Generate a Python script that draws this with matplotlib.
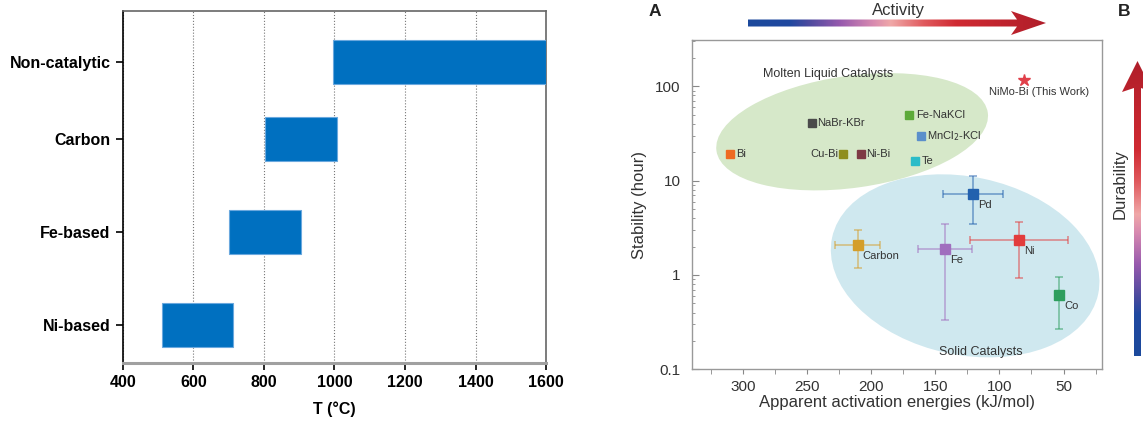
import numpy as np
import matplotlib
matplotlib.use("Agg")
import matplotlib.pyplot as plt
from matplotlib import transforms
from matplotlib.patches import Ellipse, Polygon
from matplotlib.colors import LinearSegmentedColormap

plt.rcParams['font.family'] = ['Liberation Sans', 'DejaVu Sans']

# left panel: operating temperature ranges
categories = ['Ni-based', 'Fe-based', 'Carbon', 'Non-catalytic']
cat_pos = [0, 1, 2, 2.83]
t_start = [510, 702, 803, 997]
t_end = [713, 906, 1006, 1600]

# panel A: molten liquid catalysts
liq_names = ['Bi', 'NaBr-KBr', 'Cu-Bi', 'Ni-Bi', 'Fe-NaKCl', 'MnCl$_2$-KCl', 'Te']
liq_ea = [310, 246, 222, 208, 171, 161, 166]
liq_stab = [19, 40.4, 19, 19, 50.2, 29.8, 16.2]
liq_colors = ['#EE6A22', '#4A4A4A', '#8E8E1E', '#7E3A44', '#5DAA3A', '#5B8FCB', '#2BBCC8']

# panel A: solid catalysts (with error ranges)
sol_names = ['Pd', 'Carbon', 'Fe', 'Ni', 'Co']
sol_ea = [120.5, 210.7, 142.7, 84.6, 53.6]
sol_ea_lo = [97, 193, 121.4, 46.3, 53.6]
sol_ea_hi = [144, 228.6, 163.8, 123.2, 53.6]
sol_stab = [7.3, 2.1, 1.88, 2.33, 0.62]
sol_stab_lo = [3.44, 1.2, 0.33, 0.94, 0.265]
sol_stab_hi = [11.1, 3.0, 3.44, 3.66, 0.95]
sol_colors = ['#2361AE', '#D49E2A', '#A06EBE', '#E23C3C', '#2E9E5E']

# this work
star_ea = [81]
star_stab = [118]

fig = plt.figure(figsize=(11.43, 4.21), dpi=100)

# ---------------- left panel ----------------
ax1 = fig.add_axes([0.1076, 0.1378, 0.3701, 0.8359])
widths = [e - s for s, e in zip(t_start, t_end)]
ax1.barh(cat_pos, widths, left=t_start, height=0.48, color='#0070C0',
         edgecolor='#6AA8DE', linewidth=0.8, zorder=3)
ax1.set_xlim(400, 1600)
ax1.set_ylim(-0.41, 3.38)
ax1.set_xticks([400, 600, 800, 1000, 1200, 1400, 1600])
ax1.set_yticks(cat_pos)
ax1.set_yticklabels(categories)
ax1.xaxis.grid(True, linestyle=':', color='#777777', linewidth=0.8, zorder=0)
ax1.tick_params(axis='both', labelsize=11.5, length=5, width=1.2, color='black', pad=4)
for lab in ax1.get_xticklabels() + ax1.get_yticklabels():
    lab.set_fontweight('bold')
ax1.set_xlabel('T (°C)', fontsize=11.5, fontweight='bold', labelpad=8)
ax1.spines['left'].set_color('black')
ax1.spines['left'].set_linewidth(1.2)
ax1.spines['bottom'].set_color('#A0A0A0')
ax1.spines['bottom'].set_linewidth(2.2)
for s in ['top', 'right']:
    ax1.spines[s].set_color('#666666')
    ax1.spines[s].set_linewidth(1.2)

# ---------------- right panel ----------------
ax2 = fig.add_axes([0.6054, 0.1228, 0.3587, 0.7822])
ax2.set_yscale('log')
ax2.set_xlim(340, 20)
ax2.set_ylim(0.1, 310)

# regions drawn in pixel size around a data centre
def region(cx, cy, w, h, ang, color):
    tr = fig.dpi_scale_trans + transforms.ScaledTranslation(cx, cy, ax2.transData)
    e = Ellipse((0, 0), w / 100, h / 100, angle=ang, transform=tr,
                facecolor=color, edgecolor='none', zorder=1)
    ax2.add_patch(e)

region(215, 33, 274, 112, 8, '#D6E8C9')
region(126.8, 1.25, 272, 178, -12, '#CFE8EF')

ax2.text(233.8, 135, 'Molten Liquid Catalysts', fontsize=9, color='#333333',
         ha='center', va='center', zorder=5)
ax2.text(114.7, 0.152, 'Solid Catalysts', fontsize=9, color='#333333',
         ha='center', va='center', zorder=5)

liq_offsets = [(6, 'left'), (5, 'left'), (-5, 'right'), (5, 'left'),
               (8, 'left'), (6, 'left'), (7, 'left')]
for name, x, y, c, (dx, ha) in zip(liq_names, liq_ea, liq_stab, liq_colors, liq_offsets):
    ax2.plot(x, y, 's', color=c, markersize=5.5, zorder=4)
    ax2.annotate(name, (x, y), xytext=(dx, 0), textcoords='offset pixels',
                 fontsize=8, color='#333333', ha=ha, va='center', zorder=5)

for i, name in enumerate(sol_names):
    x, y, c = sol_ea[i], sol_stab[i], sol_colors[i]
    xerr = [[x - sol_ea_lo[i]], [sol_ea_hi[i] - x]]
    yerr = [[y - sol_stab_lo[i]], [sol_stab_hi[i] - y]]
    if sol_ea_hi[i] == sol_ea_lo[i]:
        xerr = None
    ax2.errorbar(x, y, xerr=xerr, yerr=yerr, fmt='none', ecolor=c, alpha=0.6,
                 elinewidth=1.1, capsize=3, capthick=1.1, zorder=3)
    ax2.plot(x, y, 's', color=c, markersize=6.5, zorder=4)
    ax2.annotate(name, (x, y), xytext=(5, -11), textcoords='offset pixels',
                 fontsize=8, color='#333333', ha='left', va='center', zorder=5)

ax2.plot(star_ea, star_stab, '*', color='#E0404A', markersize=9, zorder=4)
ax2.annotate('NiMo-Bi (This Work)', (star_ea[0], star_stab[0]), xytext=(15, -12),
             textcoords='offset pixels', fontsize=8, color='#333333',
             ha='center', va='center', zorder=5)

ax2.set_yticks([0.1, 1, 10, 100])
ax2.set_yticklabels(['0.1', '1', '10', '100'])
ax2.set_xticks([300, 250, 200, 150, 100, 50])
ax2.set_xticks([325, 275, 225, 175, 125, 75, 25], minor=True)
ax2.tick_params(axis='y', which='major', direction='in', length=5, color='#888888',
                labelsize=11, labelcolor='#333333', pad=8)
ax2.tick_params(axis='y', which='minor', direction='in', length=2.5, color='#888888')
ax2.tick_params(axis='x', which='both', direction='out', length=3.5, color='#888888',
                labelsize=11, labelcolor='#333333', pad=4)
for s in ax2.spines.values():
    s.set_color('#999999')
    s.set_linewidth(1.0)
ax2.set_xlabel('Apparent activation energies (kJ/mol)', fontsize=12, color='#333333',
               labelpad=1)
ax2.set_ylabel('Stability (hour)', fontsize=12, color='#333333', labelpad=6)

# ---------------- overlay: gradient arrows and panel letters ----------------
ov = fig.add_axes([0, 0, 1, 1], facecolor='none')
ov.set_xlim(0, 1143)
ov.set_ylim(421, 0)
ov.axis('off')

grad = LinearSegmentedColormap.from_list('act', [
    (0.0, '#1C4A9C'), (0.14, '#2048A0'), (0.2, '#4A4A9E'), (0.31, '#985AAE'),
    (0.42, '#D88AB0'), (0.48, '#F0A8A8'), (0.59, '#E05A5E'), (0.7, '#D02A32'),
    (1.0, '#B01E2A')])

h_arrow = Polygon([(748, 19.5), (1017, 19.5), (1011, 11), (1046, 23), (1011, 35),
                   (1017, 26.5), (748, 26.5)], closed=True, facecolor='none',
                  edgecolor='none')
ov.add_patch(h_arrow)
img = ov.imshow(np.linspace(0, 1, 256).reshape(1, -1), cmap=grad, aspect='auto',
                extent=[748, 1046, 35, 11], zorder=2)
img.set_clip_path(h_arrow)

v_arrow = Polygon([(1134, 356), (1134, 88), (1122, 92), (1137.5, 61), (1153, 92),
                   (1141, 88), (1141, 356)], closed=True, facecolor='none',
                  edgecolor='none')
ov.add_patch(v_arrow)
img2 = ov.imshow(np.linspace(1, 0, 256).reshape(-1, 1), cmap=grad, aspect='auto',
                 extent=[1120, 1155, 356, 61], zorder=2)
img2.set_clip_path(v_arrow)
ov.set_xlim(0, 1143)
ov.set_ylim(421, 0)

ov.text(898, 10, 'Activity', fontsize=12, color='#333333', ha='center', va='center')
ov.text(1120, 184, 'Durability', fontsize=12, color='#333333', ha='center',
        va='center', rotation=90)
ov.text(655, 11, 'A', fontsize=12.5, fontweight='bold', color='#222222',
        ha='center', va='center')
ov.text(1124, 11, 'B', fontsize=12.5, fontweight='bold', color='#222222',
        ha='center', va='center')

fig.savefig('out.png', dpi=100)
